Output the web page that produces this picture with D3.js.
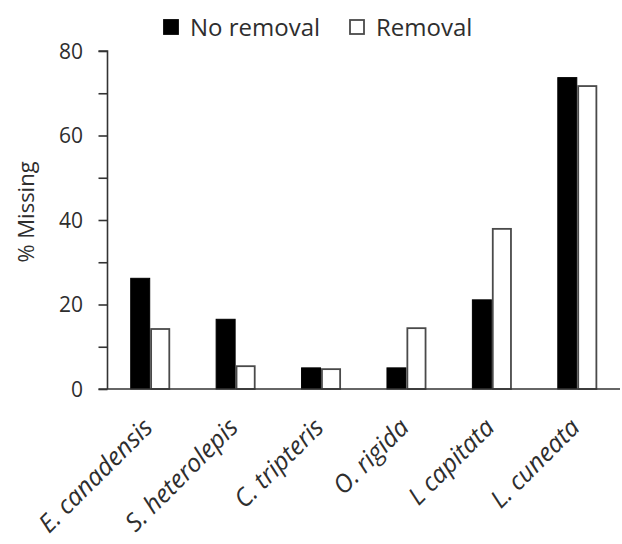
<!DOCTYPE html>
<html>
<head>
<meta charset="utf-8">
<script src="https://cdn.jsdelivr.net/npm/d3@7"></script>
<style>
  html, body { margin: 0; padding: 0; background: #fff; }
  svg { display: block; }
  text { font-family: "Open Sans", "DejaVu Sans", sans-serif; fill: #2e2e2e; }
</style>
</head>
<body>
<svg id="chart" width="622" height="544"></svg>
<script>
// Species and percentage of missing plants per treatment
const species = ["E. canadensis", "S. heterolepis", "C. tripteris", "O. rigida", "L capitata", "L. cuneata"];
const noRemoval = [26.2, 16.5, 5.0, 5.0, 21.1, 73.7];
const removal = [14.2, 5.4, 4.7, 14.4, 37.9, 71.7];
const seriesNames = ["No removal", "Removal"];
const yTicks = [0, 20, 40, 60, 80];
const yMinorTicks = [0, 10, 20, 30, 40, 50, 60, 70, 80];

const svg = d3.select("#chart");
const plot = { left: 107.5, right: 620, top: 51, bottom: 389 };

const x = d3.scaleBand()
  .domain(species)
  .range([plot.left, plot.right])
  .paddingInner(0.532)
  .paddingOuter(0.266);

const y = d3.scaleLinear().domain([0, 80]).range([plot.bottom, plot.top]);

const xs = d3.scaleBand().domain([0, 1]).range([0, x.bandwidth()]);

const styles = [
  { fill: "#000", stroke: "#000", sw: 1 },
  { fill: "#fff", stroke: "#4a4a4a", sw: 1.8 }
];

const rows = species.map((s, i) => ({ s, vals: [noRemoval[i], removal[i]] }));

// grouped bars
const groups = svg.append("g").selectAll("g").data(rows).join("g")
  .attr("transform", d => `translate(${x(d.s)},0)`);

groups.selectAll("rect").data(d => d.vals.map((v, k) => ({ v, k }))).join("rect")
  .attr("x", d => xs(d.k) + styles[d.k].sw / 2)
  .attr("y", d => y(d.v))
  .attr("width", d => xs.bandwidth() - styles[d.k].sw)
  .attr("height", d => y(0) - y(d.v))
  .attr("fill", d => styles[d.k].fill)
  .attr("stroke", d => styles[d.k].stroke)
  .attr("stroke-width", d => styles[d.k].sw);

// y axis: ticks every 10, labels every 20
const yAxisG = svg.append("g").attr("transform", `translate(${plot.left},0)`);
yAxisG.call(d3.axisLeft(y).tickValues(yMinorTicks).tickSize(9).tickFormat(""));
yAxisG.selectAll("path, line").attr("stroke", "#333").attr("stroke-width", 1.6);
yAxisG.select(".domain").attr("d", `M-9,${y(80)}H0V${y(0)}`);

svg.append("g").selectAll("text").data(yTicks).join("text")
  .attr("x", 83)
  .attr("y", d => y(d))
  .attr("dy", "0.36em")
  .attr("text-anchor", "end")
  .attr("font-size", 21)
  .text(d => d);

// x axis baseline
svg.append("line")
  .attr("x1", plot.left - 9).attr("x2", plot.right)
  .attr("y1", y(0)).attr("y2", y(0))
  .attr("stroke", "#333").attr("stroke-width", 1.6);

// species labels
svg.append("g").selectAll("text").data(species).join("text")
  .attr("transform", d => `translate(${x(d) + x.bandwidth() / 2 + 4},${y(0) + 40}) rotate(-45)`)
  .attr("text-anchor", "end")
  .attr("font-size", 25)
  .attr("font-style", "italic")
  .text(d => d);

// y title
svg.append("text")
  .attr("transform", `translate(34,${(y(0) + y(80)) / 2 - 8}) rotate(-90)`)
  .attr("text-anchor", "middle")
  .attr("font-size", 22)
  .text("% Missing");

// legend
const legend = svg.append("g");
const legendX = [164, 350];
seriesNames.forEach((n, k) => {
  legend.append("rect")
    .attr("x", legendX[k]).attr("y", 20)
    .attr("width", 14).attr("height", 14)
    .attr("fill", styles[k].fill)
    .attr("stroke", styles[k].stroke)
    .attr("stroke-width", 1.8);
  legend.append("text")
    .attr("x", legendX[k] + 26).attr("y", 36)
    .attr("font-size", 24)
    .attr("fill", "#4a4a4a")
    .text(n);
});
</script>
</body>
</html>
